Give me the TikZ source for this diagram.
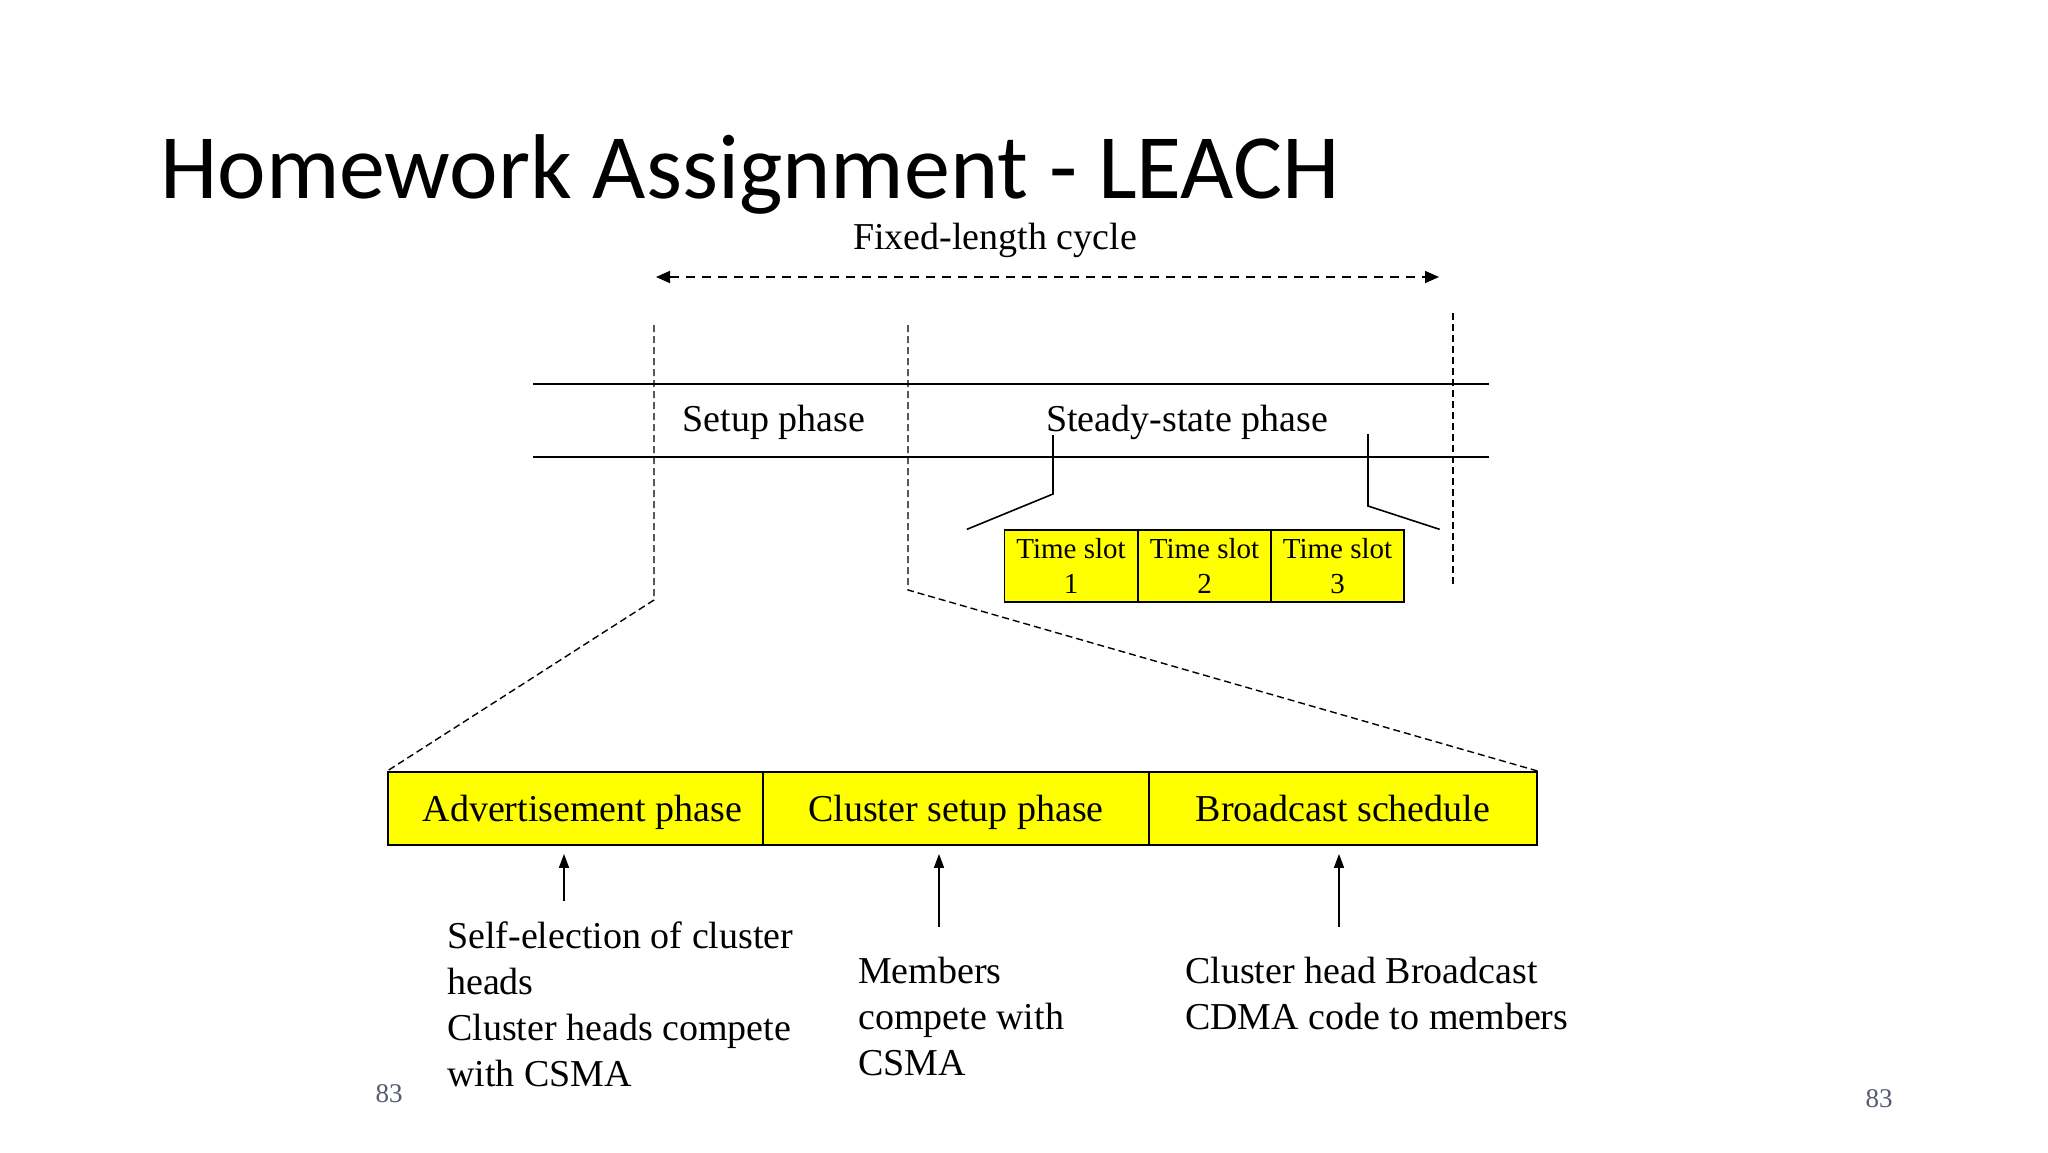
\documentclass[tikz,border=0pt]{standalone}
\usepackage{fontspec}
\setmainfont{Liberation Serif}
\newfontfamily\titlefont{Carlito}
\usetikzlibrary{arrows.meta}
\definecolor{slideyellow}{RGB}{255,255,0}
\definecolor{pagenum}{RGB}{85,90,110}

\begin{document}
\begin{tikzpicture}[x=1pt,y=-1pt,
    phasebox/.style={draw=black,line width=1.8pt,fill=slideyellow,minimum height=73pt,
        inner sep=0pt,text height=25pt,text depth=0pt,font=\fontsize{38}{46}\selectfont},
    slotbox/.style={draw=black,line width=1.3pt,fill=slideyellow,minimum width=133pt,
        minimum height=72pt,inner sep=0pt,align=center,font=\fontsize{29}{35}\selectfont},
    note/.style={anchor=north west,inner sep=0pt,align=left,font=\fontsize{38}{46}\selectfont},
    label/.style={anchor=base,inner sep=0pt,font=\fontsize{38}{46}\selectfont},
    cutline/.style={dash pattern=on 7pt off 4pt,line width=1.4pt},
    cycleline/.style={dash pattern=on 9pt off 7pt,line width=1.8pt,
        {Triangle[length=14pt,width=12pt]}-{Triangle[length=14pt,width=12pt]}},
    uparrow/.style={-{Triangle[length=14pt,width=10pt]},line width=1.6pt}]

    \useasboundingbox (0,0) rectangle (2048,1152);

    \node[anchor=base west,inner sep=0pt,font=\titlefont\fontsize{92}{100}\selectfont]
        (title) at (160,198) {Homework Assignment - LEACH};

    % the cycle
    \node[label] (cycle) at (995,249) {Fixed-length cycle};
    \coordinate (cycl) at (656,277);
    \coordinate (cycr) at (1439,277);
    \draw[cycleline] (cycl) -- (cycr);

    \coordinate (ltop) at (533,384);
    \coordinate (rtop) at (1489,384);
    \coordinate (lbot) at (533,457);
    \coordinate (rbot) at (1489,457);
    \draw[line width=2pt] (ltop) -- (rtop);
    \draw[line width=2pt] (lbot) -- (rbot);

    \node[label] (setup) at (774,431) {Setup phase};
    \node[label] (steady) at (1187,431) {Steady-state phase};

    % time slots
    \foreach \n/\x in {1/1071,2/1204.5,3/1337.5}
        \node[slotbox] (ts\n) at (\x,566) {Time slot\\\n};

    \coordinate (brl) at (1053,435);
    \coordinate (brr) at (1368,434);
    \draw[line width=1.6pt] (brl) -- (1053,494) -- ([xshift=-37pt]ts1.north west);
    \draw[line width=1.6pt] (brr) -- (1368,506) -- ([xshift=35pt]ts3.north east);

    % setup phase parts
    \node[phasebox,minimum width=375pt] (adv) at (575.5,808.5) {\hspace*{14pt}Advertisement phase};
    \node[phasebox,minimum width=386pt] (csp) at (956,808.5) {Cluster setup phase};
    \node[phasebox,minimum width=388pt] (bcs) at (1343,808.5) {Broadcast schedule};

    \coordinate (s0t) at (654,325);
    \coordinate (s0b) at (654,600);
    \coordinate (s1t) at (908,325);
    \coordinate (s1b) at (908,590);
    \coordinate (s2t) at (1453,313);
    \coordinate (s2b) at (1453,587);
    \draw[cutline] (s0t) -- (s0b) -- (adv.north west);
    \draw[cutline] (s1t) -- (s1b) -- (bcs.north east);
    \draw[cutline] (s2t) -- (s2b);

    \node[note] (selfel) at (447,916) {\strut Self-election of cluster\\heads\\Cluster heads compete\\with CSMA};
    \node[note] (members) at (858,951) {\strut Members\\compete with\\CSMA};
    \node[note] (chead) at (1185,951) {\strut Cluster head Broadcast\\CDMA code to members};

    \coordinate (a1) at (564,901);
    \coordinate (a2) at (939,927);
    \coordinate (a3) at (1339,927);
    \draw[uparrow,shorten >=8pt] (a1) -- (a1 |- adv.south);
    \draw[uparrow,shorten >=8pt] (a2) -- (a2 |- csp.south);
    \draw[uparrow,shorten >=8pt] (a3) -- (a3 |- bcs.south);

    \node[anchor=base,text=pagenum,font=\fontsize{27}{30}\selectfont] (pgl) at (389,1102) {83};
    \node[anchor=base,text=pagenum,font=\fontsize{27}{30}\selectfont] (pgr) at (1879,1107) {83};

\end{tikzpicture}
\end{document}
